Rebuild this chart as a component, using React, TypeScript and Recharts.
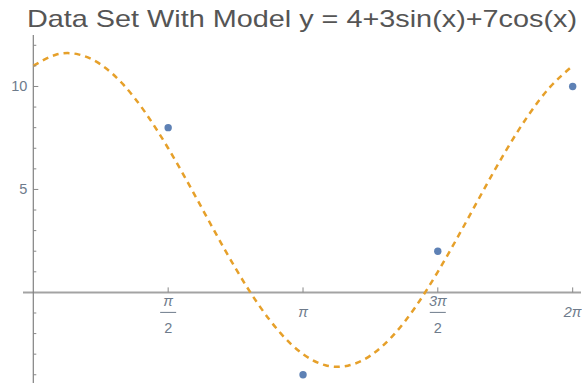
import React from "react";
import { ComposedChart, Line, Scatter, XAxis, YAxis } from "recharts";

const TITLE = "Data Set With Model y = 4+3sin(x)+7cos(x)";

// observed data points
const dataX = [1.571, 3.142, 4.712, 6.283];
const dataY = [8, -4, 2, 10];

// model curve values read along x (step π/12)
const curveX = [0, 0.262, 0.524, 0.785, 1.047, 1.309, 1.571, 1.833, 2.094, 2.356, 2.618, 2.88, 3.142, 3.403, 3.665, 3.927, 4.189, 4.451, 4.712, 4.974, 5.236, 5.498, 5.76, 6.021, 6.283];
const curveY = [11, 11.54, 11.56, 11.07, 10.1, 8.71, 7, 5.09, 3.1, 1.17, -0.56, -1.98, -3, -3.54, -3.56, -3.07, -2.1, -0.71, 1, 2.91, 4.9, 6.83, 8.56, 9.98, 11];

// axis ticks
const xTickValues = [1.571, 3.142, 4.712, 6.283];
const xTickNum = ["π", "π", "3π", "2π"];
const xTickDen = ["2", "", "2", ""];
const yTickValues = [-4, -3, -2, -1, 1, 2, 3, 4, 5, 6, 7, 8, 9, 10, 11, 12];
const yTickLabels: Record<number, string> = { 5: "5", 10: "10" };

const points = dataX.map((x, i) => ({ x, y: dataY[i] }));
const curve = curveX.map((x, i) => ({ x, y: curveY[i] }));
const xTicks = xTickValues.map((x, i) => ({ x, y: 0, num: xTickNum[i], den: xTickDen[i] }));
const yTicks = yTickValues.map((y) => ({ x: 0, y, label: yTickLabels[y] || "" }));

const LABEL = "#6e7b8b";
const FONT = "'Liberation Sans', Arial, sans-serif";

const XTickShape = (props: any) => {
  const { cx, cy, payload } = props;
  const frac = payload.den !== "";
  return (
    <g>
      <line x1={cx} y1={cy} x2={cx} y2={cy - 5} stroke="#888" strokeWidth={1} />
      {frac ? (
        <g fontFamily={FONT} fontSize={14.5} fill={LABEL} textAnchor="middle">
          <text x={cx} y={cy + 14} fontStyle="italic">{payload.num}</text>
          <line x1={cx - 8} y1={cy + 20} x2={cx + 8} y2={cy + 20} stroke={LABEL} strokeWidth={1} />
          <text x={cx} y={cy + 41}>{payload.den}</text>
        </g>
      ) : (
        <text x={cx} y={cy + 25} fontFamily={FONT} fontSize={14.5} fontStyle="italic" fill={LABEL} textAnchor="middle">{payload.num}</text>
      )}
    </g>
  );
};

const YTickShape = (props: any) => {
  const { cx, cy, payload } = props;
  const major = payload.label !== "";
  return (
    <g>
      <line x1={cx} y1={cy} x2={cx + (major ? 5 : 3)} y2={cy} stroke="#888" strokeWidth={1} />
      {major && (
        <text x={cx - 6} y={cy + 5} fontFamily={FONT} fontSize={14.5} fill={LABEL} textAnchor="end">{payload.label}</text>
      )}
    </g>
  );
};

const DotShape = (props: any) => {
  const { cx, cy } = props;
  return <circle cx={cx} cy={cy} r={3.7} fill="#5e81b5" />;
};

export default function App() {
  return (
    <div style={{ position: "absolute", left: 0, top: 0, width: 582, height: 386, background: "#fff" }}>
      <svg width={582} height={40} style={{ position: "absolute", left: 0, top: 0 }}>
        <text x={27} y={27} fontFamily={FONT} fontSize={24} fill="#555" textLength={550} lengthAdjust="spacingAndGlyphs">{TITLE}</text>
      </svg>
      <div style={{ position: "absolute", left: 0, top: 0 }}>
        <ComposedChart width={582} height={386} margin={{ top: 35, right: 1, bottom: 3, left: 23 }}>
          <XAxis dataKey="x" type="number" domain={[-0.12, 6.38]} hide />
          <YAxis dataKey="y" type="number" domain={[-4.4, 12.5]} hide />
          <Line data={[{ x: -0.12, y: 0 }, { x: 6.38, y: 0 }]} dataKey="y" stroke="#a3a3a3" strokeWidth={2} dot={false} isAnimationActive={false} />
          <Line data={[{ x: 0, y: -4.4 }, { x: 0, y: 12.5 }]} dataKey="y" stroke="#808080" strokeWidth={1.2} dot={false} isAnimationActive={false} />
          <Scatter data={xTicks} dataKey="y" shape={XTickShape} isAnimationActive={false} />
          <Scatter data={yTicks} dataKey="y" shape={YTickShape} isAnimationActive={false} />
          <Line data={curve} dataKey="y" type="natural" stroke="#e6a02a" strokeWidth={2.5} strokeDasharray="6 5" dot={false} isAnimationActive={false} />
          <Scatter data={points} dataKey="y" shape={DotShape} isAnimationActive={false} />
        </ComposedChart>
      </div>
    </div>
  );
}
